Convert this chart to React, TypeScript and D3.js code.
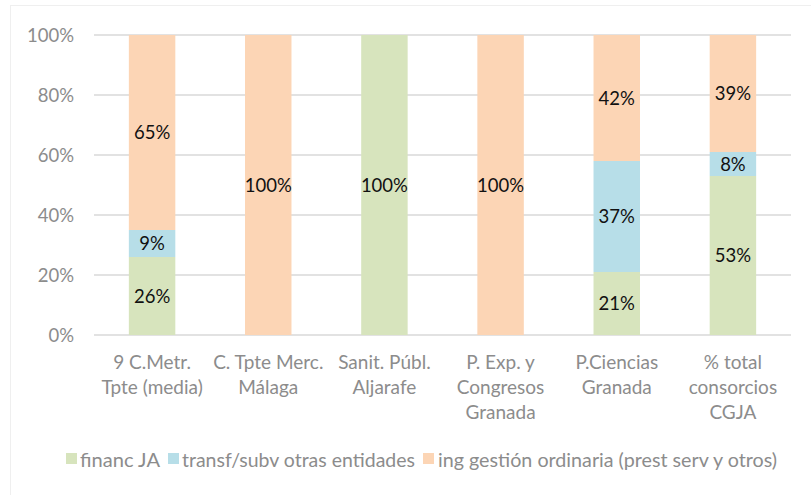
import { useEffect, useRef } from "react";
import * as d3 from "d3";

const categories = [
  ["9 C.Metr.", "Tpte (media)"],
  ["C. Tpte Merc.", "Málaga"],
  ["Sanit. Públ.", "Aljarafe"],
  ["P. Exp. y", "Congresos", "Granada"],
  ["P.Ciencias", "Granada"],
  ["% total", "consorcios", "CGJA"],
];
const seriesNames = [
  "financ JA",
  "transf/subv otras entidades",
  "ing gestión ordinaria (prest serv y otros)",
];
const financJA = [26, 0, 100, 0, 21, 53];
const transfSubv = [9, 0, 0, 0, 37, 8];
const ingGestion = [65, 100, 0, 100, 42, 39];
const yTicks = [0, 20, 40, 60, 80, 100];

const colors = ["#D7E4BD", "#B7DEE8", "#FCD5B5"];
const font = "Lato, 'Open Sans', sans-serif";

const App = () => {
  const ref = useRef<SVGSVGElement>(null);

  useEffect(() => {
    const svg = d3.select(ref.current);
    svg.selectAll("*").remove();

    svg
      .append("rect")
      .attr("x", 10.5)
      .attr("y", 5.5)
      .attr("width", 820)
      .attr("height", 520)
      .attr("fill", "white")
      .attr("stroke", "#EFEFEF");

    const x = d3
      .scaleBand<number>()
      .domain(d3.range(categories.length))
      .range([94, 791])
      .paddingInner(0.6)
      .paddingOuter(0.3);
    const y = d3.scaleLinear().domain([0, 100]).range([335, 35]);

    const g = svg.append("g");

    // gridlines + y tick labels
    g.selectAll("line.grid")
      .data(yTicks)
      .enter()
      .append("line")
      .attr("x1", 94)
      .attr("x2", 791)
      .attr("y1", (d) => y(d))
      .attr("y2", (d) => y(d))
      .attr("stroke", "#D9D9D9")
      .attr("stroke-width", 1.3);

    g.selectAll("text.ytick")
      .data(yTicks)
      .enter()
      .append("text")
      .attr("x", 74)
      .attr("y", (d) => y(d) + 6.5)
      .attr("text-anchor", "end")
      .attr("fill", "#8C8C8C")
      .style("font-size", "18.5px")
      .style("font-family", font)
      .text((d) => `${d}%`);

    const rows = categories.map((_, i) => ({
      i,
      a: financJA[i],
      b: transfSubv[i],
      c: ingGestion[i],
    }));
    const stack = d3.stack<any>().keys(["a", "b", "c"]);
    const layers = stack(rows);

    layers.forEach((layer, li) => {
      const lg = g.append("g");
      layer.forEach((d, i) => {
        const v = d[1] - d[0];
        if (v <= 0) return;
        lg.append("rect")
          .attr("x", x(i)!)
          .attr("width", x.bandwidth())
          .attr("y", y(d[1]))
          .attr("height", y(d[0]) - y(d[1]))
          .attr("fill", colors[li]);
        lg.append("text")
          .attr("x", x(i)! + x.bandwidth() / 2)
          .attr("y", (y(d[0]) + y(d[1])) / 2 + 6.5)
          .attr("text-anchor", "middle")
          .attr("fill", "#111")
          .style("font-size", "18.5px")
          .style("font-family", font)
          .text(`${Math.round(v)}%`);
      });
    });

    // x labels
    categories.forEach((lines, i) => {
      const cx = x(i)! + x.bandwidth() / 2;
      const t = g
        .append("text")
        .attr("x", cx)
        .attr("y", 369)
        .attr("text-anchor", "middle")
        .attr("fill", "#8C8C8C")
        .style("font-size", "19px")
        .style("font-family", font);
      lines.forEach((l, k) => {
        t.append("tspan")
          .attr("x", cx)
          .attr("dy", k === 0 ? 0 : 25)
          .text(l);
      });
    });

    // legend
    const legendSquare = [66, 168, 423];
    const legendText = [80, 182, 438];
    const legendWidth = [80, 233, 339];
    seriesNames.forEach((name, i) => {
      g.append("rect")
        .attr("x", legendSquare[i])
        .attr("y", 453)
        .attr("width", 11)
        .attr("height", 11)
        .attr("fill", colors[i]);
      g.append("text")
        .attr("x", legendText[i])
        .attr("y", 467)
        .attr("fill", "#8C8C8C")
        .attr("textLength", legendWidth[i])
        .attr("lengthAdjust", "spacingAndGlyphs")
        .style("font-size", "19px")
        .style("font-family", font)
        .text(name);
    });
  }, []);

  return (
    <svg
      ref={ref}
      width={811}
      height={495}
      style={{ position: "absolute", left: 0, top: 0, background: "white" }}
    />
  );
};

export default App;
